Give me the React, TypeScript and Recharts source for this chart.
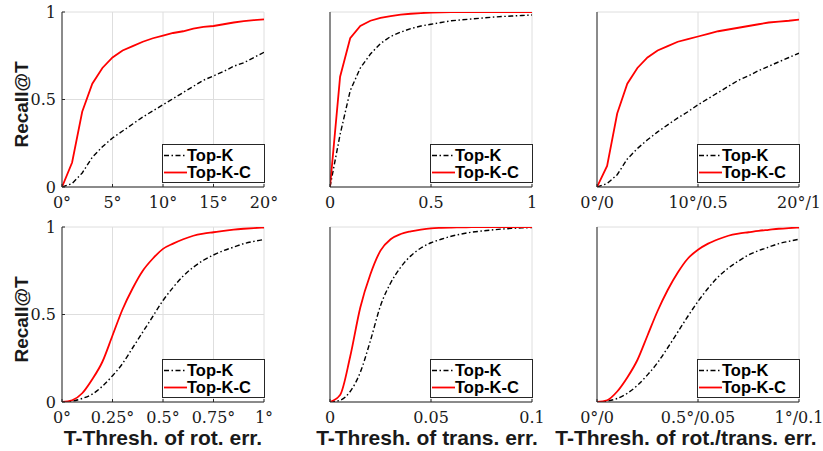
import React from "react";
import { CartesianGrid, Legend, Line, LineChart, XAxis, YAxis } from "recharts";

const SERIF = "'DejaVu Serif', serif";
const SANS = "'Liberation Sans', Arial, sans-serif";
const AXIS = "#262626";
const GRID = "#dedede";

// x grids
const DEG20 = [0, 1, 2, 3, 4, 5, 6, 7, 8, 9, 10, 11, 12, 13, 14, 15, 16, 17, 18, 19, 20];
const UNIT1 = [0, 0.05, 0.1, 0.15, 0.2, 0.25, 0.3, 0.35, 0.4, 0.45, 0.5, 0.55, 0.6, 0.65, 0.7, 0.75, 0.8, 0.85, 0.9, 0.95, 1];
const TRANS01 = [0, 0.005, 0.01, 0.015, 0.02, 0.025, 0.03, 0.035, 0.04, 0.045, 0.05, 0.055, 0.06, 0.065, 0.07, 0.075, 0.08, 0.085, 0.09, 0.095, 0.1];

// top row (coarse thresholds)
const ROT_TOPK = [0, 0.02, 0.08, 0.17, 0.23, 0.28, 0.32, 0.36, 0.4, 0.435, 0.47, 0.505, 0.54, 0.575, 0.61, 0.635, 0.66, 0.69, 0.71, 0.74, 0.77];
const ROT_TOPKC = [0, 0.14, 0.43, 0.59, 0.68, 0.74, 0.78, 0.805, 0.83, 0.85, 0.865, 0.88, 0.89, 0.905, 0.915, 0.92, 0.93, 0.94, 0.948, 0.953, 0.958];
const TRANS_TOPK = [0, 0.3, 0.55, 0.68, 0.76, 0.82, 0.86, 0.885, 0.905, 0.92, 0.93, 0.94, 0.95, 0.955, 0.96, 0.965, 0.97, 0.974, 0.977, 0.98, 0.983];
const TRANS_TOPKC = [0, 0.63, 0.85, 0.92, 0.95, 0.967, 0.977, 0.985, 0.99, 0.994, 0.997, 0.998, 0.999, 1, 1, 1, 1, 1, 1, 1, 1];
const BOTH_TOPK = [0, 0.02, 0.07, 0.16, 0.22, 0.27, 0.315, 0.355, 0.395, 0.43, 0.47, 0.505, 0.54, 0.575, 0.61, 0.635, 0.665, 0.69, 0.715, 0.74, 0.765];
const BOTH_TOPKC = [0, 0.12, 0.42, 0.59, 0.68, 0.74, 0.78, 0.805, 0.83, 0.845, 0.86, 0.875, 0.89, 0.9, 0.91, 0.92, 0.93, 0.94, 0.945, 0.95, 0.957];

// bottom row (fine thresholds)
const FROT_TOPK = [0, 0.005, 0.02, 0.045, 0.09, 0.15, 0.22, 0.31, 0.4, 0.49, 0.58, 0.655, 0.72, 0.77, 0.81, 0.84, 0.865, 0.885, 0.905, 0.918, 0.928];
const FROT_TOPKC = [0, 0.01, 0.05, 0.13, 0.23, 0.38, 0.53, 0.65, 0.75, 0.82, 0.875, 0.905, 0.93, 0.95, 0.962, 0.97, 0.978, 0.985, 0.99, 0.994, 0.997];
const FTRANS_TOPK = [0, 0.01, 0.06, 0.17, 0.35, 0.55, 0.68, 0.77, 0.835, 0.88, 0.91, 0.93, 0.947, 0.96, 0.97, 0.977, 0.983, 0.988, 0.992, 0.995, 0.997];
const FTRANS_TOPKC = [0, 0.04, 0.26, 0.54, 0.73, 0.865, 0.93, 0.96, 0.975, 0.985, 0.992, 0.995, 0.997, 0.998, 0.999, 1, 1, 1, 1, 1, 1];
const FBOTH_TOPK = [0, 0.005, 0.02, 0.05, 0.095, 0.155, 0.225, 0.31, 0.4, 0.49, 0.575, 0.65, 0.715, 0.765, 0.805, 0.84, 0.865, 0.885, 0.905, 0.918, 0.93];
const FBOTH_TOPKC = [0, 0.01, 0.06, 0.14, 0.24, 0.38, 0.52, 0.64, 0.74, 0.82, 0.87, 0.905, 0.93, 0.95, 0.962, 0.97, 0.978, 0.984, 0.99, 0.994, 0.997];

const Y_TICKS = [0, 0.5, 1];
const Y_LABELS = ["0", "0.5", "1"];

const SERIES = [
  { key: "topK", name: "Top-K", color: "#000000", width: 1.4, dash: "5 2.5 1.5 2.5" },
  { key: "topKC", name: "Top-K-C", color: "#ff0000", width: 1.8, dash: undefined },
];

// plot geometry
const PW = 202;
const PH = 175;
const ML = 62;
const MT = 12;
const MR = 28;
const MB = 49;
const LW = 103;
const LH = 39;

type Panel = {
  left: number;
  top: number;
  x: number[];
  topK: number[];
  topKC: number[];
  domain: [number, number];
  ticks: number[];
  labels: string[];
  curve: "linear" | "monotone";
  showY: boolean;
  xTitle?: string;
  titleShift?: number;
};

const PANELS: Panel[] = [
  { left: 62, top: 12, x: DEG20, topK: ROT_TOPK, topKC: ROT_TOPKC, domain: [0, 20], ticks: [0, 5, 10, 15, 20], labels: ["0°", "5°", "10°", "15°", "20°"], curve: "linear", showY: true },
  { left: 330, top: 12, x: UNIT1, topK: TRANS_TOPK, topKC: TRANS_TOPKC, domain: [0, 1], ticks: [0, 0.5, 1], labels: ["0", "0.5", "1"], curve: "linear", showY: false },
  { left: 597, top: 12, x: DEG20, topK: BOTH_TOPK, topKC: BOTH_TOPKC, domain: [0, 20], ticks: [0, 10, 20], labels: ["0°/0", "10°/0.5", "20°/1"], curve: "linear", showY: false },
  { left: 62, top: 227, x: UNIT1, topK: FROT_TOPK, topKC: FROT_TOPKC, domain: [0, 1], ticks: [0, 0.25, 0.5, 0.75, 1], labels: ["0°", "0.25°", "0.5°", "0.75°", "1°"], curve: "monotone", showY: true, xTitle: "T-Thresh. of rot. err." },
  { left: 330, top: 227, x: TRANS01, topK: FTRANS_TOPK, topKC: FTRANS_TOPKC, domain: [0, 0.1], ticks: [0, 0.05, 0.1], labels: ["0", "0.05", "0.1"], curve: "monotone", showY: false, xTitle: "T-Thresh. of trans. err.", titleShift: -4 },
  { left: 597, top: 227, x: UNIT1, topK: FBOTH_TOPK, topKC: FBOTH_TOPKC, domain: [0, 1], ticks: [0, 0.5, 1], labels: ["0°/0", "0.5°/0.05", "1°/0.1"], curve: "monotone", showY: false, xTitle: "T-Thresh. of rot./trans. err.", titleShift: -12 },
];

const TICK_FONT = { fontFamily: SERIF, fontSize: 16, fill: "#1a1a1a" };

function LegendBox(props: any) {
  const items = props.payload ?? [];
  return (
    <div
      style={{
        boxSizing: "border-box",
        width: LW,
        height: LH,
        border: `1px solid ${AXIS}`,
        background: "#fff",
        paddingTop: 2,
      }}
    >
      {items.map((it: any) => {
        const s = SERIES.find((d) => d.name === it.value) ?? SERIES[0];
        return (
          <div key={s.key} style={{ display: "flex", alignItems: "center", height: 17 }}>
            <svg width={24} height={17} style={{ display: "block" }}>
              <line x1={1} x2={24} y1={8.5} y2={8.5} stroke={s.color} strokeWidth={s.width} strokeDasharray={s.dash} />
            </svg>
            <span style={{ font: `bold 16.5px ${SANS}`, color: "#000", lineHeight: "17px" }}>{s.name}</span>
          </div>
        );
      })}
    </div>
  );
}

function SmallChart({ p }: { p: Panel }) {
  const data = p.x.map((x, i) => ({ x, topK: p.topK[i], topKC: p.topKC[i] }));
  const fmtX = (v: number) => p.labels[p.ticks.indexOf(v)] ?? String(v);
  const fmtY = (v: number) => Y_LABELS[Y_TICKS.indexOf(v)] ?? String(v);
  return (
    <div style={{ position: "absolute", left: p.left - ML, top: p.top - MT }}>
      <LineChart
        width={ML + PW + MR}
        height={MT + PH + MB}
        data={data}
        margin={{ top: MT, right: MR, bottom: 0, left: 0 }}
      >
        <CartesianGrid stroke={GRID} strokeWidth={1} />
        <XAxis
          dataKey="x"
          type="number"
          domain={p.domain}
          ticks={p.ticks}
          interval={0}
          allowDataOverflow
          height={MB}
          stroke={AXIS}
          tickSize={-3}
          tickMargin={13}
          tick={TICK_FONT}
          tickFormatter={fmtX}
          label={
            p.xTitle
              ? (lp: any) => {
                  const vb = lp.viewBox;
                  return (
                    <text
                      x={vb.x + vb.width / 2 + (p.titleShift ?? 0)}
                      y={vb.y + 43}
                      textAnchor="middle"
                      style={{ font: `bold 21px ${SANS}`, fill: "#1a1a1a" }}
                    >
                      {p.xTitle}
                    </text>
                  );
                }
              : undefined
          }
        />
        <XAxis
          xAxisId="top"
          dataKey="x"
          type="number"
          orientation="top"
          domain={p.domain}
          ticks={p.ticks}
          interval={0}
          allowDataOverflow
          height={0}
          stroke={AXIS}
          tickSize={-3}
          tick={false}
        />
        <YAxis
          type="number"
          domain={[0, 1]}
          ticks={Y_TICKS}
          interval={0}
          allowDataOverflow
          width={ML}
          stroke={AXIS}
          tickSize={-3}
          tickMargin={9}
          tick={p.showY ? TICK_FONT : false}
          tickFormatter={fmtY}
          label={
            p.showY
              ? (lp: any) => {
                  const vb = lp.viewBox;
                  const cx = vb.x + 21;
                  const cy = vb.y + vb.height / 2 + 5;
                  return (
                    <text
                      x={cx}
                      y={cy}
                      textAnchor="middle"
                      dominantBaseline="central"
                      transform={`rotate(-90, ${cx}, ${cy})`}
                      style={{ font: `bold 19px ${SANS}`, fill: "#1a1a1a" }}
                    >
                      Recall@T
                    </text>
                  );
                }
              : undefined
          }
        />
        <YAxis
          yAxisId="right"
          orientation="right"
          type="number"
          domain={[0, 1]}
          ticks={Y_TICKS}
          interval={0}
          allowDataOverflow
          width={0}
          stroke={AXIS}
          tickSize={-3}
          tick={false}
        />
        <Legend
          layout="vertical"
          align="center"
          verticalAlign="middle"
          content={<LegendBox />}
          wrapperStyle={{ left: ML + PW - LW + 1, top: MT + PH - LH - 4, width: LW, height: LH }}
        />
        {SERIES.map((s) => (
          <Line
            key={s.key}
            type={p.curve}
            dataKey={s.key}
            name={s.name}
            stroke={s.color}
            strokeWidth={s.width}
            strokeDasharray={s.dash}
            dot={false}
            activeDot={false}
            isAnimationActive={false}
          />
        ))}
      </LineChart>
    </div>
  );
}

export default function App() {
  return (
    <div style={{ position: "absolute", left: 0, top: 0, width: 823, height: 451, background: "#fff", overflow: "hidden" }}>
      {PANELS.map((p, i) => (
        <SmallChart key={i} p={p} />
      ))}
    </div>
  );
}
